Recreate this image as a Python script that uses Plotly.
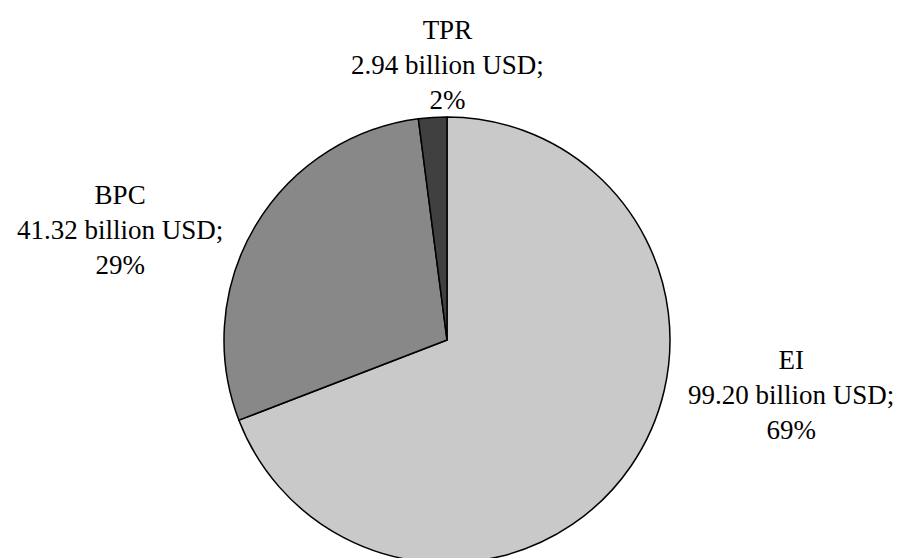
import plotly.graph_objects as go

categories = ["EI", "BPC", "TPR"]
values = [99.20, 41.32, 2.94]
percent_labels = ["69%", "29%", "2%"]
colors = ["#c9c9c9", "#888888", "#404040"]

W, H = 901, 600

def px_x(x):
    return x / W

def px_y(y):
    return (H - y) / H

fig = go.Figure(go.Pie(
    labels=categories,
    values=values,
    sort=False,
    direction="clockwise",
    rotation=0,
    marker=dict(colors=colors, line=dict(color="#000000", width=1.5)),
    textinfo="none",
    hoverinfo="label+value+percent",
    showlegend=False,
    domain=dict(x=[px_x(224), px_x(670)], y=[px_y(563), px_y(117)]),
))

label_pos = {"EI": (791, 395), "BPC": (120, 230), "TPR": (447, 65)}
for c, v, p in zip(categories, values, percent_labels):
    x, y = label_pos[c]
    fig.add_annotation(
        x=px_x(x), y=px_y(y), xref="paper", yref="paper",
        xanchor="center", yanchor="middle", showarrow=False,
        text=f"{c}<br>{v:.2f} billion USD;<br>{p}",
        font=dict(family="Liberation Serif, Times New Roman, serif", size=27, color="#000000"),
        align="center",
    )

fig.update_layout(
    width=W, height=H,
    margin=dict(l=0, r=0, t=0, b=0),
    paper_bgcolor="#ffffff",
    plot_bgcolor="#ffffff",
)

fig.write_html(
    "out.html",
    config={"displayModeBar": False},
    post_script="document.documentElement.style.overflow='hidden';document.body.style.overflow='hidden';document.body.style.margin='0';",
)
